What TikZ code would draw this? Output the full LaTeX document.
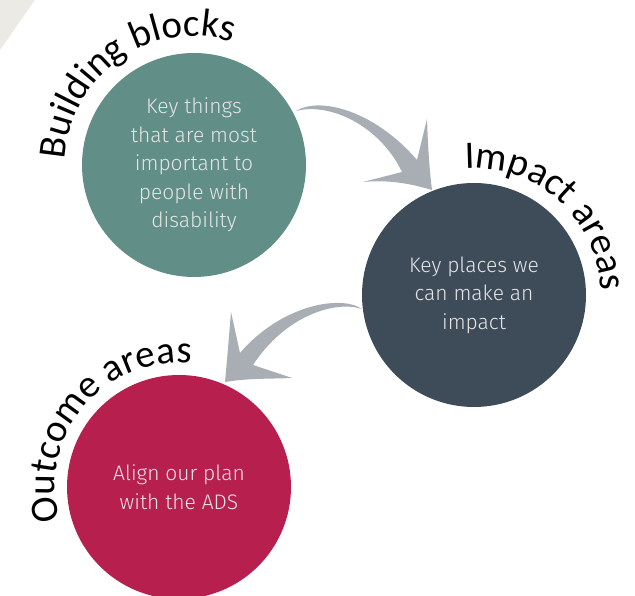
\documentclass[tikz,border=0pt]{standalone}
\usepackage{fontspec}
\newfontfamily\labelfont{Carlito}
\newfontfamily\bodyfont{Fira Sans Light}
\usetikzlibrary{decorations.text}
\definecolor{tealc}{HTML}{628E88}
\definecolor{slatec}{HTML}{3E4C59}
\definecolor{crimsonc}{HTML}{B71F4F}
\definecolor{arrowgrey}{HTML}{A9AEB4}
\definecolor{beigec}{HTML}{ECEAE5}
\begin{document}
\begin{tikzpicture}[x=1pt,y=1pt,
  disc/.style={circle, minimum size=224pt, inner sep=0pt, text=white!90!black,
    font=\bodyfont\fontsize{21}{28.5}\selectfont, align=center},
  bigarrow/.style={fill=arrowgrey, draw=none},
  arclabel/.style={decorate, decoration={text along path, text align=center,
    text={|\labelfont\fontsize{39}{39}\selectfont|#1}}}]
\useasboundingbox (0,0) rectangle (635,596);
\fill[beigec] (0,596) -- (35,596) -- (0,546) -- cycle;
% arrow 1 coordinates
\coordinate (a1tail) at (296,485);
\coordinate (a1up) at (417,436);
\coordinate (a1ub) at (427,477);
\coordinate (a1tip) at (432,406);
\coordinate (a1lb) at (363,414);
\coordinate (a1low) at (402,424);
\fill[bigarrow] (a1tail) .. controls (320,500) and (375,485) .. (a1up)
  -- (a1ub) .. controls (428,450) and (429,430) .. (a1tip)
  .. controls (405,414) and (385,416) .. (a1lb) -- (a1low)
  .. controls (380,470) and (330,494) .. (a1tail) -- cycle;
% arrow 2 coordinates
\coordinate (a2tail) at (362,287);
\coordinate (a2up) at (240,243);
\coordinate (a2ub) at (231,284);
\coordinate (a2tip) at (225,214);
\coordinate (a2lb) at (292,218);
\coordinate (a2low) at (253,231);
\fill[bigarrow] (a2tail) .. controls (340,302) and (280,290) .. (a2up)
  -- (a2ub) .. controls (229,260) and (227,235) .. (a2tip)
  .. controls (250,218) and (270,217) .. (a2lb) -- (a2low)
  .. controls (285,280) and (335,296) .. (a2tail) -- cycle;
% circles
\node[disc, fill=tealc] (bb) at (194,431) {Key things\\that are most\\important to\\people with\\disability};
\node[disc, fill=slatec] (ia) at (474,301) {Key places we\\can make an\\impact};
\node[disc, fill=crimsonc] (oa) at (179,109) {Align our plan\\with the ADS};
% curved labels
\path[arclabel={Building blocks}] ([shift={(185:129)}]bb.center) arc[start angle=185, end angle=65, radius=129];
\path[arclabel={Impact areas}] ([shift={(100:127)}]ia.center) arc[start angle=100, end angle=-4, radius=127];
\path[arclabel={Outcome areas}] ([shift={(200:124)}]oa.center) arc[start angle=200, end angle=80, radius=124];
\end{tikzpicture}
\end{document}
